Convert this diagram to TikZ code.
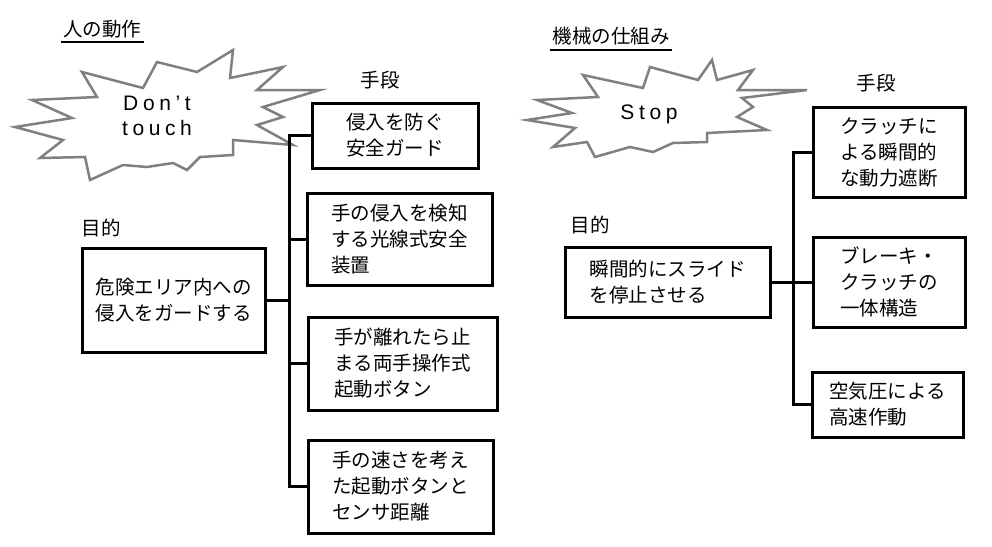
\documentclass[tikz,border=0pt]{standalone}
\usepackage{fontspec}
\setmainfont{Noto Sans CJK JP}
\newfontfamily\burstfont[LetterSpace=22]{Liberation Sans}
\usetikzlibrary{calc,positioning}

\tikzset{
  box/.style={draw,line width=3pt,fill=white,align=left,inner sep=0pt,font=\fontsize{19.5}{26}\selectfont},
  lbl/.style={inner sep=0pt,font=\fontsize{19.5}{24}\selectfont},
  link/.style={line width=3pt},
  burst/.style={draw=black!50,line width=2.5pt,fill=white,line join=miter},
  shout/.style={align=center,inner sep=0pt,font=\fontsize{21}{25}\burstfont}
}

\begin{document}
\begin{tikzpicture}[x=1pt,y=-1pt]
\useasboundingbox (0,0) rectangle (992,546);

% titles
\node[lbl] (tL) at (102,29) {人の動作};
\draw[line width=1.2pt] (61,42) -- (144,42);
\node[lbl] (tR) at (611,36) {機械の仕組み};
\draw[line width=1.2pt] (550,50) -- (672,50);

% bursts
\draw[burst] (233,50) -- (197,72) -- (157,62) -- (143,88) -- (82,72) -- (97,97)
  -- (32,100) -- (72,118) -- (15,127) -- (63,140) -- (40,158) -- (85,157)
  -- (90,180) -- (123,165) -- (147,167) -- (173,163) -- (187,170) -- (200,157)
  -- (233,155) -- (233,140) -- (293,145) -- (257,125) -- (283,117) -- (263,107)
  -- (320,90) -- (257,90) -- (283,67) -- (230,78) -- cycle;
\node[shout] (sL) at (157,116) {Don’t\\touch};

\draw[burst] (712,60) -- (698,80) -- (650,67) -- (643,88) -- (583,75) -- (598,97)
  -- (537,100) -- (572,113) -- (527,120) -- (575,128) -- (553,147) -- (587,142)
  -- (595,157) -- (630,147) -- (653,152) -- (673,143) -- (707,142) -- (707,133)
  -- (767,130) -- (737,117) -- (753,107) -- (742,98) -- (807,90) -- (738,90)
  -- (753,70) -- (717,80) -- cycle;
\node[shout] (sR) at (649,114) {Stop};

% left: aim and means
\node[lbl] (aimL) at (101,228) {目的};
\node[lbl] (wayL) at (380,80) {手段};
\node[box,minimum width=183pt,minimum height=104pt] (goalL) at (173.5,300) {危険エリア内への\\侵入をガードする};
\node[box,minimum width=166pt,minimum height=65pt] (m1) at (395,135.5) {侵入を防ぐ\\安全ガード};
\node[box,minimum width=185pt,minimum height=92pt] (m2) at (399.5,239) {手の侵入を検知\\する光線式安全\\装置};
\node[box,minimum width=189pt,minimum height=93pt] (m3) at (402.5,363.5) {手が離れたら止\\まる両手操作式\\起動ボタン};
\node[box,minimum width=185pt,minimum height=93pt] (m4) at (400.5,486.5) {手の速さを考え\\た起動ボタンと\\センサ距離};

\coordinate (trunkL) at (289,0);
\draw[link] (goalL.east) -- (goalL.east -| trunkL);
\draw[link] (m1.west) -- (m1.west -| trunkL) |- (m4.west);
\draw[link] (m2.west) -- (m2.west -| trunkL);
\draw[link] (m3.west) -- (m3.west -| trunkL);

% right: aim and means
\node[lbl] (aimR) at (590,225) {目的};
\node[lbl] (wayR) at (876,83) {手段};
\node[box,minimum width=205pt,minimum height=70pt] (goalR) at (667.5,282) {瞬間的にスライド\\を停止させる};
\node[box,minimum width=152pt,minimum height=90pt] (n1) at (889,152) {クラッチに\\よる瞬間的\\な動力遮断};
\node[box,minimum width=152pt,minimum height=90pt] (n2) at (889,282) {ブレーキ・\\クラッチの\\一体構造};
\node[box,minimum width=151pt,minimum height=65pt] (n3) at (887.5,404.5) {空気圧による\\高速作動};

\coordinate (trunkR) at (793,0);
\draw[link] (goalR.east) -- (goalR.east -| trunkR);
\draw[link] (n1.west) -- (n1.west -| trunkR) |- (n3.west);
\draw[link] (n2.west) -- (n2.west -| trunkR);

\end{tikzpicture}
\end{document}
